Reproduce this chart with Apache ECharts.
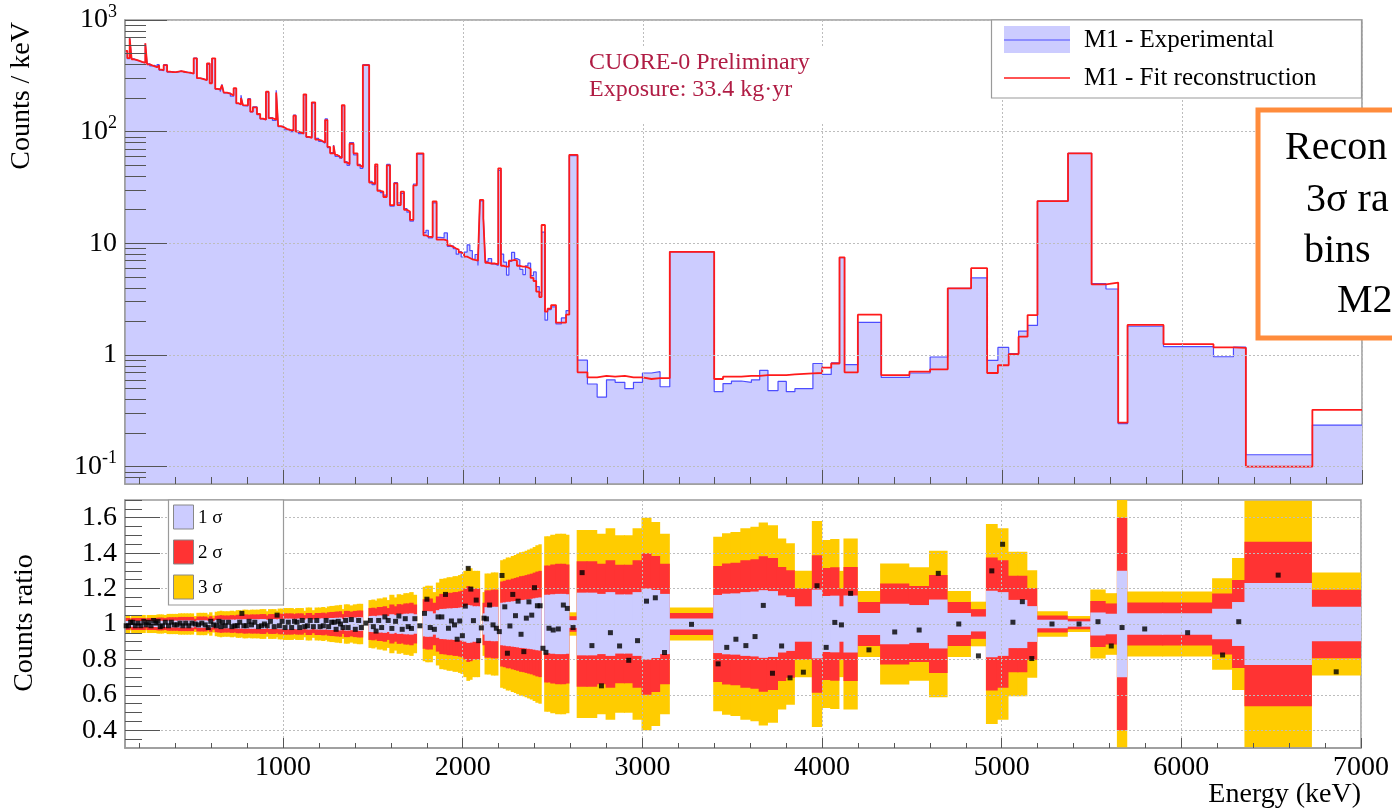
<!DOCTYPE html>
<html>
<head>
<meta charset="utf-8">
<script src="https://cdn.jsdelivr.net/npm/echarts@6.0.0/dist/echarts.min.js"></script>
<style>
html, body { margin: 0; padding: 0; background: #fff; }
#spectrum { width: 1392px; height: 811px; }
</style>
</head>
<body>
<div id="spectrum"></div>
<script>
// bin edges in keV (one more than the bins)
let binEdges = [
    120, 133, 146, 157, 170, 185, 200, 216, 233, 243,
    258, 272, 286, 298, 310, 322, 335, 354, 370, 386,
    402, 418, 434, 450, 466, 484, 502, 520, 538, 557,
    576, 591, 604, 622, 636, 650, 659, 669, 687, 706,
    724, 739, 752, 765, 776, 787, 804, 817, 831, 854,
    872, 888, 904, 919, 940, 961, 972, 987, 1002, 1020,
    1038, 1057, 1070, 1085, 1100, 1113, 1128, 1143, 1159, 1178,
    1197, 1215, 1233, 1246, 1261, 1280, 1289, 1301, 1313, 1326,
    1341, 1355, 1369, 1391, 1413, 1428, 1443, 1478, 1494, 1511,
    1524, 1540, 1557, 1576, 1594, 1617, 1635, 1654, 1672, 1688,
    1705, 1724, 1743, 1780, 1794, 1807, 1831, 1853, 1872, 1895,
    1913, 1928, 1946, 1962, 1976, 1990, 2006, 2023, 2038, 2052,
    2067, 2083, 2094, 2113, 2124, 2140, 2159, 2178, 2196, 2211,
    2226, 2242, 2255, 2270, 2287, 2300, 2316, 2333, 2347, 2361,
    2376, 2392, 2407, 2424, 2437, 2456, 2470, 2490, 2517, 2547,
    2573, 2591, 2637, 2692, 2746, 2798, 2846, 2900, 2948, 2998,
    3048, 3096, 3150, 3397, 3446, 3493, 3548, 3604, 3650, 3696,
    3752, 3798, 3846, 3946, 3998, 4048, 4094, 4122, 4196, 4326,
    4483, 4598, 4696, 4826, 4915, 4975, 5035, 5090, 5140, 5195,
    5365, 5496, 5576, 5644, 5696, 5896, 6174, 6285, 6354, 6724,
    7000
];

// M1 fit reconstruction, counts / keV
let fitCounts = [
    530, 455, 685, 445, 440, 430, 422, 414, 618, 400,
    392, 385, 378, 392, 360, 355, 395, 345, 342, 342,
    345, 348, 344, 340, 338, 330, 454, 302, 296, 290,
    409, 271, 454, 242, 238, 231, 262, 224, 219, 211,
    245, 180, 175, 200, 173, 172, 195, 151, 165, 144,
    131, 128, 228, 132, 128, 224, 112, 110, 106, 104,
    102, 139, 100, 98, 96, 216, 90, 88, 183, 85,
    83, 80, 127, 73, 64, 75, 62, 60, 58, 173,
    53, 51, 78, 64, 50, 48, 395, 35, 34, 51,
    29.5, 29, 26, 50, 22, 34.5, 22, 29, 20, 19.3,
    16.2, 33, 64, 11.8, 11.5, 11.4, 23.7, 10.8, 10.8, 10.6,
    9.6, 9.3, 9.0, 8.8, 8.3, 8.1, 7.6, 7.4, 7.2, 7.1,
    7.0, 7.0, 24.5, 16.7, 6.7, 6.6, 6.6, 6.5, 47, 6.3,
    6.2, 6.2, 7.0, 7.1, 7.0, 6.3, 6.2, 6.2, 6.1, 5.9,
    4.9, 4.6, 3.7, 3.3, 14.6, 2.45, 2.6, 2.8, 1.95, 1.95,
    2.3, 62, 0.70, 0.63, 0.65, 0.64, 0.65, 0.63, 0.63, 0.61,
    0.62, 0.62, 8.4, 0.61, 0.64, 0.64, 0.65, 0.65, 0.66, 0.66,
    0.66, 0.67, 0.685, 0.69, 0.77, 0.84, 7.5, 0.70, 2.3, 0.66,
    0.71, 0.745, 3.96, 6.0, 0.69, 0.81, 1.02, 1.46, 2.28, 23.9,
    64, 4.3, 4.45, 0.248, 1.86, 1.25, 1.17, 1.16, 0.100, 0.323
];

// M1 experimental, counts / keV
let expCounts = [
    525, 450, 690, 450, 435, 432, 418, 420, 615, 405,
    388, 392, 380, 398, 355, 352, 398, 342, 345, 340,
    343, 350, 340, 342, 334, 332, 455, 300, 298, 288,
    400, 275, 452, 240, 242, 228, 265, 222, 221, 208,
    243, 178, 177, 212, 171, 170, 198, 150, 167, 142,
    130, 128, 226, 134, 126, 235, 111, 112, 104, 105,
    100, 141, 101, 96, 98, 213, 89, 90, 180, 87,
    82, 79, 130, 72, 65, 76, 60, 61, 58, 170,
    54, 50, 80, 62, 51, 47, 398, 36, 33.5, 49,
    30, 28.5, 27, 51, 21.5, 35, 23, 28, 20.5, 19,
    15.8, 34, 63, 12.5, 13.1, 11.2, 23, 11.3, 11.2, 12.4,
    9.4, 9.5, 8.95, 8.0, 8.45, 7.55, 8.35, 9.7, 8.6, 7.2,
    7.95, 6.35, 24, 17.2, 6.9, 7.3, 6.55, 6.35, 45, 8.0,
    6.8, 5.2, 6.9, 8.3, 7.3, 7.1, 5.85, 5.25, 6.3, 6.65,
    5.15, 5.55, 4.1, 3.65, 12.6, 2.05, 2.55, 2.7, 1.9, 2.15,
    2.5, 61, 0.90, 0.55, 0.42, 0.60, 0.57, 0.50, 0.57, 0.69,
    0.71, 0.52, 8.4, 0.47, 0.555, 0.585, 0.57, 0.60, 0.73, 0.48,
    0.58, 0.47, 0.50, 0.84, 0.67, 0.85, 7.45, 0.82, 1.96, 0.63,
    0.69, 0.96, 3.96, 4.9, 0.895, 1.17, 1.03, 1.64, 1.84, 23.9,
    64, 4.35, 3.9, 0.243, 1.81, 1.19, 0.965, 1.175, 0.128, 0.236
];

// counts ratio per bin (black points)
let ratioValues = [
    0.99, 0.99, 1.01, 1.01, 0.99, 1.005, 0.99, 1.015, 0.995, 1.01,
    0.99, 1.02, 1.005, 1.015, 0.985, 0.99, 1.01, 0.99, 1.01, 0.995,
    0.995, 1.005, 0.99, 1.005, 0.99, 1.005, 1.0, 0.995, 1.005, 0.995,
    0.98, 1.015, 0.995, 0.99, 1.015, 0.985, 1.01, 0.99, 1.01, 0.985,
    0.99, 0.99, 1.01, 1.06, 0.99, 0.99, 1.015, 0.995, 1.01, 0.985,
    0.99, 1.0, 0.99, 1.015, 0.985, 1.05, 0.99, 1.015, 0.98, 1.01,
    0.98, 1.015, 1.01, 0.98, 1.02, 0.985, 0.99, 1.02, 0.985, 1.02,
    0.985, 0.99, 1.02, 0.985, 1.01, 1.01, 0.97, 1.015, 1.0, 0.98,
    1.02, 0.98, 1.025, 0.97, 1.02, 0.98, 1.005, 1.02, 0.985, 0.96,
    1.02, 0.98, 1.04, 1.02, 0.975, 1.015, 1.045, 0.97, 1.03, 0.985,
    0.975, 1.03, 0.99, 1.06, 1.14, 0.98, 0.97, 1.04, 1.04, 1.167,
    0.976, 1.017, 0.995, 0.914, 1.017, 0.934, 1.101, 1.314, 1.197, 1.019,
    1.135, 0.906, 0.978, 1.033, 1.029, 1.107, 0.995, 0.976, 0.957, 1.274,
    1.097, 0.835, 0.989, 1.167, 1.047, 1.129, 0.942, 0.844, 1.033, 1.125,
    1.05, 1.205, 1.103, 1.103, 0.863, 0.84, 0.976, 0.966, 0.972, 1.107,
    1.088, 0.98, 1.29, 0.878, 0.651, 0.951, 0.876, 0.795, 0.906, 1.129,
    1.148, 0.839, 0.998, 0.775, 0.868, 0.914, 0.878, 0.929, 1.105, 0.722,
    0.876, 0.696, 0.728, 1.216, 0.868, 1.009, 0.995, 1.173, 0.854, 0.955,
    0.966, 1.286, 1.0, 0.82, 1.30, 1.45, 1.01, 1.126, 0.805, 1.0,
    1.0, 1.013, 0.876, 0.98, 0.972, 0.951, 0.825, 1.013, 1.276, 0.73
];

// relative 1 sigma half width of the ratio band (0 = no band drawn)
let ratioSigma = [
    .017, .017, .012, .017, .017, .017, .017, .017, .012, .017,
    .017, .017, .017, .018, .018, .018, .017, .019, .019, .019,
    .019, .02, .02, .02, .02, .02, .015, .021, .021, .021,
    .018, .022, .016, .023, .024, .025, .024, .024, .024, .025,
    .024, .026, .026, .025, .027, .027, .026, .027, .027, .027,
    .028, .028, .024, .028, .028, .025, .029, .029, .03, .03,
    .03, .028, .03, .03, .03, .025, .031, .031, .026, .031,
    .031, .032, .03, .033, .034, .034, .035, .035, .036, .028,
    .037, .037, .035, .037, .038, .038, 0, .045, .046, .044,
    .048, .048, .05, .045, .055, .05, .056, .055, .058, .058,
    .06, .055, 0, .07, .072, .072, .06, .078, .085, .086,
    .088, .088, .09, .09, .092, .094, .1, .107, .105, .1,
    .1, .1, 0, .06, .095, .095, .097, .097, 0, .12,
    .122, .125, .125, .128, .13, .132, .135, .136, .138, .14,
    .142, .145, .148, .15, 0, .165, .165, .168, .17, .17,
    .168, .022, .177, .177, .17, .18, .167, .167, .18, .2,
    .192, .17, .031, .164, .171, .173, .18, .183, .191, .186,
    .161, .152, .1, .194, .158, .16, .1, .161, .062, .114,
    .107, .138, .062, .042, .188, .18, .136, .136, .101, .024,
    .015, .065, .058, .3, .061, .061, .086, .124, .232, .097
];

// tick labels
let energyLabels = [1000, 2000, 3000, 4000, 5000, 6000, 7000];
let countDecades = [-1, 0, 1, 2, 3];
let ratioLabels = [0.4, 0.6, 0.8, 1.0, 1.2, 1.4, 1.6];

const FONT = '"Liberation Serif", "Times New Roman", serif';
const X_MIN = 120, X_MAX = 7000;
const LOG_MIN = Math.log10(0.07), LOG_MAX = 3;
const FRAME = '#9a9a9a';
const TICK = '#555';
const GRID_LINE = '#bdbdbd';

let energyMinor = [];
for (let e = 200; e < X_MAX; e += 200) energyMinor.push(e);

let countMinor = [];
for (let d = -2; d <= 2; d++) {
    for (let k = 2; k <= 9; k++) {
        let v = Math.log10(k * Math.pow(10, d));
        if (v > LOG_MIN && v < LOG_MAX) countMinor.push(v);
    }
}

let ratioMinor = [];
for (let i = 7; i <= 34; i++) ratioMinor.push(i / 20);

function stepData(values) {
    let pts = values.map(function (v, i) {
        return [binEdges[i], Math.log10(v)];
    });
    pts.push([binEdges[binEdges.length - 1], Math.log10(values[values.length - 1])]);
    return pts;
}

let bandData = ratioSigma.map(function (s, i) {
    return [binEdges[i], binEdges[i + 1], s];
});
let pointData = ratioValues.map(function (r, i) {
    return [(binEdges[i] + binEdges[i + 1]) / 2, r];
});

// one band level (k sigma) per series, so each colour layer is drawn whole
function bandRenderer(k, color) {
    return function (params, api) {
        let lo = api.value(0), hi = api.value(1), s = api.value(2);
        if (!s) return;
        let p0 = api.coord([lo, 1 + k * s]);
        let p1 = api.coord([hi, 1 - k * s]);
        let rect = echarts.graphic.clipRectByRect({
            x: p0[0] - 0.5, y: p0[1], width: p1[0] - p0[0] + 1, height: p1[1] - p0[1]
        }, {
            x: params.coordSys.x, y: params.coordSys.y,
            width: params.coordSys.width, height: params.coordSys.height
        });
        if (!rect) return;
        return { type: 'rect', shape: rect, style: { fill: color } };
    };
}

function bandSeries(name, k, color, z) {
    return {
        name: name, type: 'custom', xAxisIndex: 2, yAxisIndex: 2, z: z,
        renderItem: bandRenderer(k, color),
        encode: { x: [0, 1], y: 2 },
        data: bandData
    };
}

function energyAxis(grid, major, tickLen, labels) {
    return {
        gridIndex: grid, type: 'value', min: X_MIN, max: X_MAX, z: 10,
        position: 'bottom',
        axisLine: { show: major, onZero: false, lineStyle: { color: FRAME, width: 1.5 } },
        axisTick: { show: true, inside: true, length: tickLen,
            customValues: major ? energyLabels : energyMinor,
            lineStyle: { color: TICK, width: 1 } },
        axisLabel: { show: labels, customValues: energyLabels, margin: 6,
            fontFamily: FONT, fontSize: 28, color: '#000',
            formatter: function (v) { return String(v); } },
        splitLine: { show: major, lineStyle: { color: GRID_LINE, type: [2, 2], width: 1 } }
    };
}

let my_chart = echarts.init(document.getElementById('spectrum'));

let option = {
    animation: false,
    backgroundColor: '#fff',
    grid: [
        { left: 125, right: 30, top: 20, height: 464, show: true, borderColor: FRAME, borderWidth: 1.5 },
        { left: 125, right: 30, top: 500, height: 248, show: true, borderColor: FRAME, borderWidth: 1.5 }
    ],
    xAxis: [
        energyAxis(0, true, 14, false),
        energyAxis(0, false, 7, false),
        energyAxis(1, true, 10, true),
        energyAxis(1, false, 5, false)
    ],
    yAxis: [
        {
            gridIndex: 0, type: 'value', min: LOG_MIN, max: LOG_MAX, z: 10, position: 'left',
            axisLine: { show: true, onZero: false, lineStyle: { color: FRAME, width: 1.5 } },
            axisTick: { inside: true, length: 42, customValues: countDecades, lineStyle: { color: TICK } },
            axisLabel: {
                customValues: countDecades, margin: 8,
                formatter: function (v) {
                    let e = Math.round(v);
                    if (e === 0) return '{b|1}';
                    if (e === 1) return '{b|10}';
                    return '{b|10}{s|' + e + '}';
                },
                rich: {
                    b: { fontFamily: FONT, fontSize: 28, color: '#000', lineHeight: 34 },
                    s: { fontFamily: FONT, fontSize: 18, color: '#000', lineHeight: 18, verticalAlign: 'top' }
                }
            },
            splitLine: { show: true, lineStyle: { color: GRID_LINE, type: [2, 2] } }
        },
        {
            gridIndex: 0, type: 'value', min: LOG_MIN, max: LOG_MAX, z: 10, position: 'left',
            axisLine: { show: false, onZero: false },
            axisTick: { inside: true, length: 21, customValues: countMinor, lineStyle: { color: TICK } },
            axisLabel: { show: false },
            splitLine: { show: false }
        },
        {
            gridIndex: 1, type: 'value', min: 0.3, max: 1.7, z: 10, position: 'left',
            axisLine: { show: true, onZero: false, lineStyle: { color: FRAME, width: 1.5 } },
            axisTick: { inside: true, length: 35, customValues: ratioLabels, lineStyle: { color: TICK } },
            axisLabel: {
                customValues: ratioLabels, margin: 8, fontFamily: FONT, fontSize: 28, color: '#000',
                formatter: function (v) { return String(Math.round(v * 10) / 10); }
            },
            splitLine: { show: true, lineStyle: { color: GRID_LINE, type: [2, 2] } }
        },
        {
            gridIndex: 1, type: 'value', min: 0.3, max: 1.7, z: 10, position: 'left',
            axisLine: { show: false, onZero: false },
            axisTick: { inside: true, length: 17, customValues: ratioMinor, lineStyle: { color: TICK } },
            axisLabel: { show: false },
            splitLine: { show: false }
        }
    ],
    series: [
        {
            name: 'M1 - Experimental', type: 'line', xAxisIndex: 0, yAxisIndex: 0,
            step: 'end', symbol: 'none', z: 2,
            data: stepData(expCounts),
            lineStyle: { color: '#4d4dff', width: 1.2 },
            areaStyle: { color: '#ccccff', opacity: 1, origin: 'start' }
        },
        {
            name: 'M1 - Fit reconstruction', type: 'line', xAxisIndex: 0, yAxisIndex: 0,
            step: 'end', symbol: 'none', z: 3,
            data: stepData(fitCounts),
            lineStyle: { color: '#ff1a1a', width: 1.8 }
        },
        bandSeries('3 sigma', 3, '#ffcc00', 2),
        bandSeries('2 sigma', 2, '#ff3333', 3),
        bandSeries('1 sigma', 1, '#ccccff', 4),
        {
            name: 'Counts ratio', type: 'scatter', xAxisIndex: 2, yAxisIndex: 2, z: 20,
            symbol: 'rect', symbolSize: 5,
            itemStyle: { color: '#000' },
            data: pointData
        }
    ],
    graphic: [
        // top legend
        { type: 'rect', z: 100, shape: { x: 991.5, y: 20, width: 370, height: 78 },
          style: { fill: '#fff', stroke: FRAME, lineWidth: 1.2 } },
        { type: 'rect', z: 101, shape: { x: 1004, y: 26, width: 66, height: 27 }, style: { fill: '#ccccff' } },
        { type: 'line', z: 102, shape: { x1: 1004, y1: 40, x2: 1070, y2: 40 }, style: { stroke: '#4d4dff', lineWidth: 1 } },
        { type: 'text', z: 102, x: 1084, y: 40,
          style: { text: 'M1 - Experimental', fontFamily: FONT, fontSize: 25, fill: '#000', verticalAlign: 'middle' } },
        { type: 'line', z: 102, shape: { x1: 1004, y1: 78, x2: 1070, y2: 78 }, style: { stroke: '#ff1a1a', lineWidth: 1.5 } },
        { type: 'text', z: 102, x: 1084, y: 78,
          style: { text: 'M1 - Fit reconstruction', fontFamily: FONT, fontSize: 25, fill: '#000', verticalAlign: 'middle' } },
        // exposure note
        { type: 'rect', z: 100, shape: { x: 582, y: 47, width: 250, height: 76 }, style: { fill: '#fff' } },
        { type: 'text', z: 101, x: 589, y: 63,
          style: { text: 'CUORE-0 Preliminary', fontFamily: FONT, fontSize: 24, fill: '#b01c44', verticalAlign: 'middle' } },
        { type: 'text', z: 101, x: 589, y: 90,
          style: { text: 'Exposure: 33.4 kg\u00b7yr', fontFamily: FONT, fontSize: 24, fill: '#b01c44', verticalAlign: 'middle' } },
        // orange callout, cut by the right edge
        { type: 'rect', z: 110, shape: { x: 1258, y: 110, width: 160, height: 228 },
          style: { fill: '#fff', stroke: '#ff8c3c', lineWidth: 5 } },
        { type: 'text', z: 111, x: 1285, y: 148,
          style: { text: 'Recon', fontFamily: FONT, fontSize: 40, fill: '#000', verticalAlign: 'middle' } },
        { type: 'text', z: 111, x: 1306, y: 200,
          style: { text: '3\u03c3 ra', fontFamily: FONT, fontSize: 40, fill: '#000', verticalAlign: 'middle' } },
        { type: 'text', z: 111, x: 1304, y: 251,
          style: { text: 'bins', fontFamily: FONT, fontSize: 40, fill: '#000', verticalAlign: 'middle' } },
        { type: 'text', z: 111, x: 1337, y: 301,
          style: { text: 'M2', fontFamily: FONT, fontSize: 40, fill: '#000', verticalAlign: 'middle' } },
        // ratio legend
        { type: 'rect', z: 100, shape: { x: 168.5, y: 500, width: 115, height: 105 },
          style: { fill: '#fff', stroke: FRAME, lineWidth: 1.2 } },
        { type: 'rect', z: 101, shape: { x: 173.5, y: 505, width: 20, height: 24 },
          style: { fill: '#ccccff', stroke: '#888', lineWidth: 1 } },
        { type: 'rect', z: 101, shape: { x: 173.5, y: 540, width: 20, height: 24 },
          style: { fill: '#ff3333', stroke: '#888', lineWidth: 1 } },
        { type: 'rect', z: 101, shape: { x: 173.5, y: 575, width: 20, height: 24 },
          style: { fill: '#ffcc00', stroke: '#888', lineWidth: 1 } },
        { type: 'text', z: 101, x: 198, y: 518,
          style: { text: '1 \u03c3', fontFamily: FONT, fontSize: 19, fill: '#000', verticalAlign: 'middle' } },
        { type: 'text', z: 101, x: 198, y: 553,
          style: { text: '2 \u03c3', fontFamily: FONT, fontSize: 19, fill: '#000', verticalAlign: 'middle' } },
        { type: 'text', z: 101, x: 198, y: 588,
          style: { text: '3 \u03c3', fontFamily: FONT, fontSize: 19, fill: '#000', verticalAlign: 'middle' } },
        // axis titles
        { type: 'text', z: 101, x: 22, y: 22, rotation: Math.PI / 2,
          style: { text: 'Counts / keV', fontFamily: FONT, fontSize: 28, fill: '#000', align: 'right', verticalAlign: 'middle' } },
        { type: 'text', z: 101, x: 25, y: 623, rotation: Math.PI / 2,
          style: { text: 'Counts ratio', fontFamily: FONT, fontSize: 28, fill: '#000', align: 'center', verticalAlign: 'middle' } },
        { type: 'text', z: 101, x: 1361, y: 795,
          style: { text: 'Energy (keV)', fontFamily: FONT, fontSize: 28, fill: '#000', align: 'right', verticalAlign: 'middle' } }
    ]
};

my_chart.setOption(option);
</script>
</body>
</html>
